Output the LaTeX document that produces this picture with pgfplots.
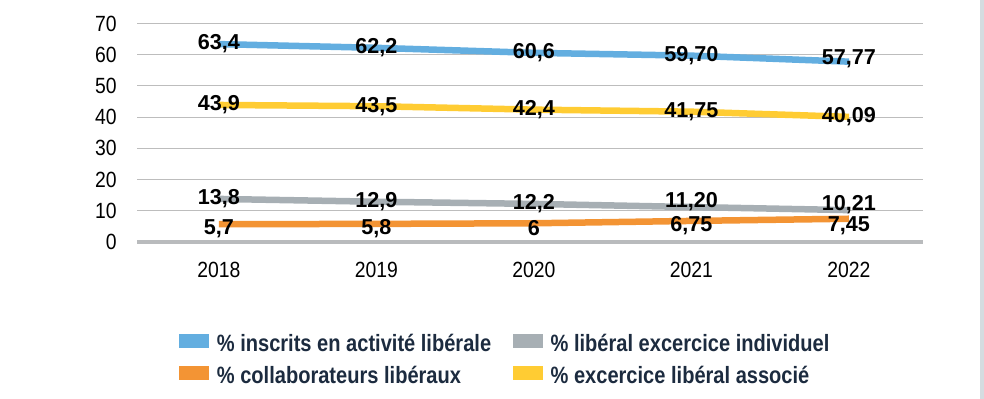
\documentclass[border=0pt]{standalone}
\usepackage{fontspec}
\setmainfont{Liberation Sans}
\newfontfamily\tickfont{Liberation Sans}[FakeStretch=0.88]
\newfontfamily\legfont{Liberation Sans}[FakeStretch=0.85]
\usepackage{pgfplots}
\usepackage{pgfplotstable}
\pgfplotsset{compat=1.18}
\definecolor{cblue}{HTML}{63AEE0}
\definecolor{cgray}{HTML}{A7AFB4}
\definecolor{corange}{HTML}{F39434}
\definecolor{cyellow}{HTML}{FFCC33}
\definecolor{gridgray}{HTML}{BDBDBD}
\definecolor{zerogray}{HTML}{B9BBBD}
\definecolor{navy}{HTML}{1C2B3F}
\definecolor{edgegray}{HTML}{D5DCE0}
\pgfplotstableread{
x y label
0 63.4 63,4
1 62.2 62,2
2 60.6 60,6
3 59.70 59,70
0 43.9 43,9
1 43.5 43,5
2 42.4 42,4
3 41.75 41,75
4 40.09 40,09
0 13.8 13,8
1 12.9 12,9
2 12.2 12,2
}\labeltable
\pgfplotstableread{
x y label
4 57.77 57,77
}\bluelast
\pgfplotstableread{
x y label
3 11.20 11,20
4 10.21 10,21
}\graylast
\pgfplotstableread{
x y label
0 5.7 5,7
1 5.8 5,8
2 6 6
3 6.75 6,75
}\orangelabels
\pgfplotstableread{
x y label
4 7.45 7,45
}\orangelast
\pgfplotsset{
  lbl/.style={draw=none, forget plot, nodes near coords, point meta=explicit symbolic,
    nodes near coords style={anchor=center, inner sep=0pt, text=black,
      font=\bfseries\fontsize{10.8pt}{12pt}\selectfont, yshift=#1}},
  lbl/.default=0pt,
}
\begin{document}
\begin{tikzpicture}
\begin{axis}[
  scale only axis,
  width=393pt, height=109.25pt,
  xmin=-0.52, xmax=4.47, ymin=0, ymax=70,
  axis x line=bottom,
  axis y line=left,
  x axis line style={line width=2.25pt, color=zerogray, -},
  y axis line style={draw=none},
  xtick={0,1,2,3,4},
  xticklabels={2018,2019,2020,2021,2022},
  ytick={0,10,...,70},
  major tick length=0pt,
  tick style={draw=none},
  ymajorgrids,
  grid style={line width=0.5pt, color=gridgray},
  /pgf/number format/assume math mode=true,
  yticklabel style={font=\tickfont\fontsize{11pt}{13pt}\selectfont, anchor=east, inner sep=0pt, xshift=-10pt},
  xticklabel style={font=\tickfont\fontsize{11pt}{13pt}\selectfont, anchor=north, inner sep=0pt, yshift=-10pt},
  clip=false,
  legend columns=2,
  legend cell align=left,
  legend image code/.code={\fill[#1] (0pt,0pt) rectangle (11.5pt,4pt);},
  legend style={
    at={(axis description cs:0,0)}, anchor=north west,
    xshift=21pt, yshift=-45.5pt,
    draw=none, fill=none, inner sep=0pt,
    font=\legfont\bfseries\fontsize{11.8pt}{14pt}\selectfont,
    text=navy,
    nodes={inner sep=0pt, text height=9pt, text depth=2.5pt},
    row sep=4.5pt,
    /tikz/every odd column/.append style={column sep=4pt},
    /tikz/every even column/.append style={column sep=11pt},
  },
]
\addplot[cblue, line width=3.25pt] coordinates {(0,63.4)(1,62.2)(2,60.6)(3,59.70)(4,57.77)};
\addlegendentry{\% inscrits en activité libérale}
\addplot[cgray, line width=3.25pt] coordinates {(0,13.8)(1,12.9)(2,12.2)(3,11.20)(4,10.21)};
\addlegendentry{\% libéral excercice individuel}
\addplot[corange, line width=3.25pt] coordinates {(0,5.7)(1,5.8)(2,6)(3,6.75)(4,7.45)};
\addlegendentry{\% collaborateurs libéraux}
\addplot[cyellow, line width=3.25pt] coordinates {(0,43.9)(1,43.5)(2,42.4)(3,41.75)(4,40.09)};
\addlegendentry{\% excercice libéral associé}
\addplot[lbl] table[x=x, y=y, meta=label] {\labeltable};
\addplot[lbl=1.5pt] table[x=x, y=y, meta=label] {\bluelast};
\addplot[lbl=2.5pt] table[x=x, y=y, meta=label] {\graylast};
\addplot[lbl=-2.5pt] table[x=x, y=y, meta=label] {\orangelabels};
\addplot[lbl=-3.5pt] table[x=x, y=y, meta=label] {\orangelast};
\end{axis}
\fill[edgegray] ([shift={(421.5pt,-78.5pt)}]current axis.south west) rectangle ++(2pt,199.5pt);
\pgfresetboundingbox
\path[use as bounding box] ([shift={(-68.5pt,-78.5pt)}]current axis.south west) rectangle ++(492pt,199.5pt);
\end{tikzpicture}
\end{document}
